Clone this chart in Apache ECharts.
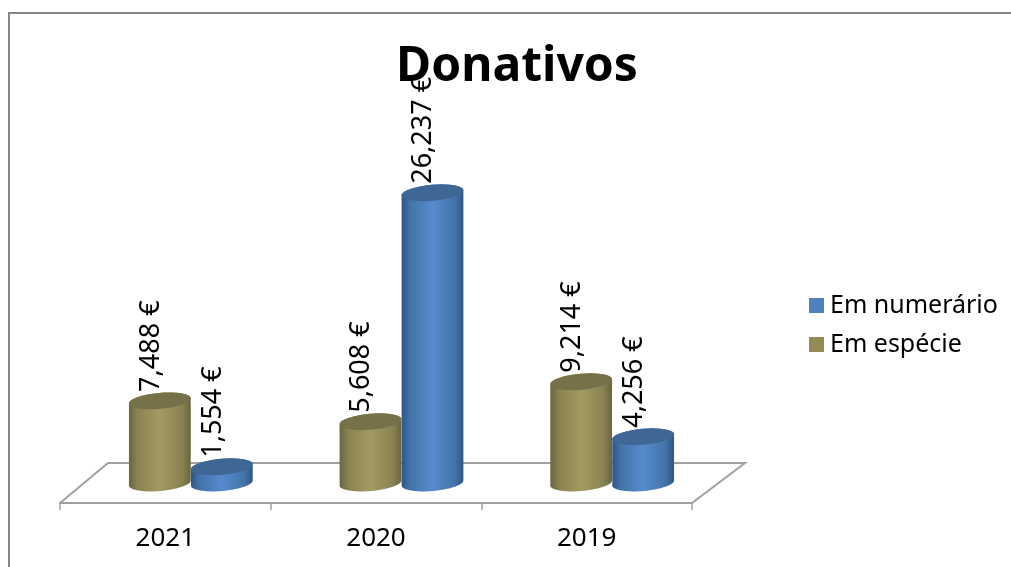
<!DOCTYPE html>
<html>
<head>
<meta charset="utf-8">
<style>html,body{margin:0;padding:0;background:#fff}#c{width:1011px;height:567px}</style>
<script src="https://cdn.jsdelivr.net/npm/echarts@6/dist/echarts.min.js"></script>
</head>
<body>
<div id="c"></div>
<script>
const categories = ['2021', '2020', '2019'];
const emEspecie = [7488, 5608, 9214];
const emNumerario = [1554, 26237, 4256];
const chartTitle = 'Donativos';
const nameNumerario = 'Em numerário';
const nameEspecie = 'Em espécie';

const FONT = '"Noto Sans", sans-serif';
const SKEW = 25.5, RX = 31, RY = 8, ANGLE = -5 * Math.PI / 180;

function fmt(v) {
  return v.toLocaleString('en-US') + ' €';
}
function pt(cx, cy, t) {
  const c = Math.cos(t), s = Math.sin(t), ca = Math.cos(ANGLE), sa = Math.sin(ANGLE);
  return [cx + RX * c * ca - RY * s * sa, cy + RX * c * sa + RY * s * ca];
}
function arc(cx, cy, from, to) {
  const pts = [];
  const n = 40;
  for (let i = 0; i <= n; i++) pts.push(pt(cx, cy, from + (to - from) * i / n));
  return pts;
}
function cylinder(side, edge, shade, mid, top) {
  return function (params, api) {
    const cat = api.value(0), val = api.value(1);
    const tp = api.coord([cat, val]);
    const bt = api.coord([cat, 0]);
    const cx = tp[0] + SKEW + side * RX;
    const body = arc(cx, bt[1] - 1, 0, Math.PI).concat(arc(cx, tp[1], Math.PI, 2 * Math.PI));
    return {
      type: 'group',
      children: [
        {
          type: 'polygon',
          shape: { points: body },
          style: {
            fill: {
              type: 'linear', x: 0, y: 0, x2: 1, y2: 0,
              colorStops: [
                { offset: 0, color: edge },
                { offset: 0.14, color: shade },
                { offset: 0.5, color: mid },
                { offset: 0.86, color: shade },
                { offset: 1, color: edge }
              ]
            }
          }
        },
        {
          type: 'polygon',
          shape: { points: arc(cx, tp[1], 0, 2 * Math.PI) },
          style: { fill: top }
        },
        {
          type: 'text',
          x: cx - 9,
          y: tp[1] - 9,
          rotation: Math.PI / 2,
          z2: 10,
          style: {
            text: fmt(val),
            align: 'left',
            verticalAlign: 'middle',
            fontFamily: FONT,
            fontSize: 27,
            fill: '#000'
          }
        }
      ]
    };
  };
}

const chart = echarts.init(document.getElementById('c'), null, { renderer: 'canvas' });
chart.setOption({
  animation: false,
  backgroundColor: '#fff',
  title: {
    text: chartTitle,
    left: 512,
    top: 38,
    textAlign: 'center',
    z: 20,
    textStyle: { fontFamily: FONT, fontWeight: 'bold', fontSize: 48, color: '#000' }
  },
  legend: {
    orient: 'vertical',
    left: 804,
    top: 288,
    itemWidth: 15,
    itemHeight: 15,
    itemGap: 14,
    icon: 'rect',
    data: [nameNumerario, nameEspecie],
    textStyle: { fontFamily: FONT, fontSize: 25, color: '#000', padding: [0, 0, 0, 1] }
  },
  grid: { left: 60, right: 319, top: 151, bottom: 83 },
  xAxis: {
    type: 'category',
    data: categories,
    offset: 19,
    axisLine: { onZero: false, lineStyle: { color: '#a0a0a0', width: 2 } },
    axisTick: { show: true, length: 7, lineStyle: { color: '#a0a0a0', width: 1.5 } },
    axisLabel: { fontFamily: FONT, fontSize: 26, color: '#000', margin: 23 }
  },
  yAxis: { type: 'value', min: 0, max: 30000, show: false, splitLine: { show: false } },
  graphic: [
    {
      type: 'polyline', z: 0, silent: true,
      shape: { points: [[60, 503], [108, 463], [745, 463], [692, 503]] },
      style: { stroke: '#a0a0a0', lineWidth: 2, fill: null }
    },
    {
      type: 'polyline', z: 0, silent: true,
      shape: { points: [[9, 567], [9, 13], [1011, 13]] },
      style: { stroke: '#868686', lineWidth: 2, fill: null }
    }
  ],
  series: [
    {
      name: nameEspecie, type: 'custom', z: 5, clip: false,
      itemStyle: { color: '#948A54' },
      renderItem: cylinder(-1, '#69653f', '#8a8252', '#a39a62', '#777149'),
      data: emEspecie.map((v, i) => [i, v])
    },
    {
      name: nameNumerario, type: 'custom', z: 6, clip: false,
      itemStyle: { color: '#4F81BD' },
      renderItem: cylinder(1, '#2f5683', '#4473aa', '#568bcd', '#3f6796'),
      data: emNumerario.map((v, i) => [i, v])
    }
  ]
});
</script>
</body>
</html>
